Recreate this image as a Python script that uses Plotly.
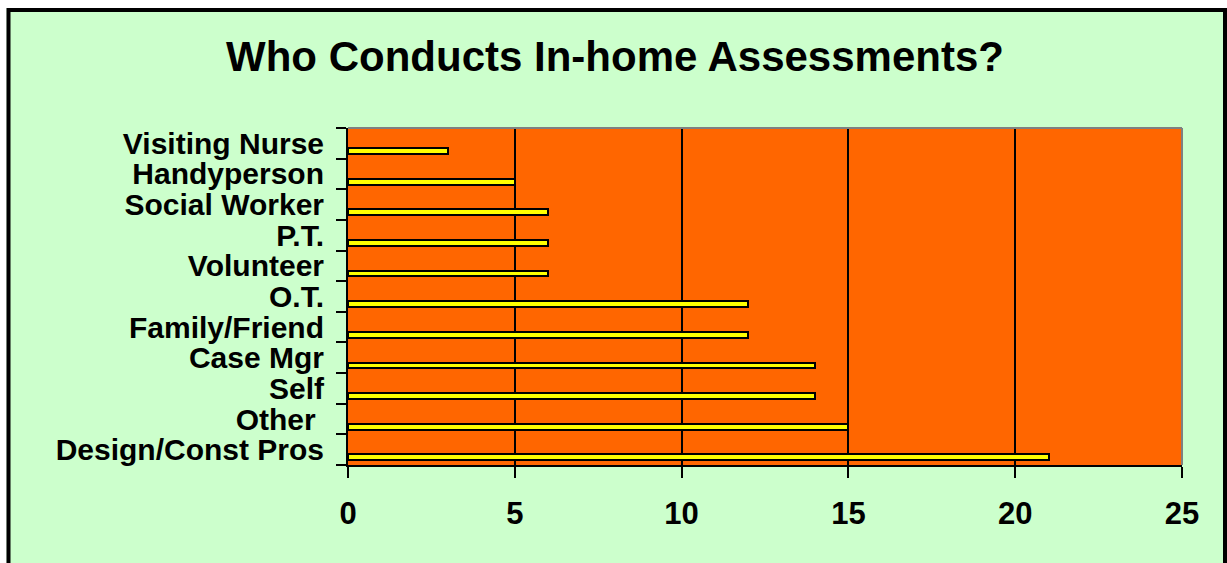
import plotly.graph_objects as go

# Data (bottom-to-top order in plotly's category axis)
categories = ["Design/Const Pros", "Other\u00a0", "Self", "Case Mgr", "Family/Friend",
              "O.T.", "Volunteer", "P.T.", "Social Worker", "Handyperson", "Visiting Nurse"]
values = [21, 15, 14, 14, 12, 12, 6, 6, 6, 5, 3]
x_ticks = [0, 5, 10, 15, 20, 25]
title_text = "Who Conducts In-home Assessments?"

W, H = 1227, 563
L, R, T, B = 348, 1182, 128, 465  # plot area in pixels
pw, ph = R - L, B - T

def px(x):
    return (x - L) / pw

def py(y):
    return (B - y) / ph

FONT = "Arial, 'Liberation Sans', sans-serif"

fig = go.Figure()
fig.add_trace(go.Bar(
    y=categories, x=values, orientation="h",
    width=0.19, offset=-0.345,
    marker=dict(color="#FFFF00", line=dict(color="black", width=2)),
    hoverinfo="x+y",
))

shapes = [
    # gray top/right edges of plot area
    dict(type="line", xref="paper", yref="paper", x0=0, x1=1, y0=1, y1=1,
         line=dict(color="#808080", width=2), layer="above"),
    dict(type="line", xref="paper", yref="paper", x0=1, x1=1, y0=0, y1=1,
         line=dict(color="#808080", width=2), layer="above"),
    # white outer margins
    dict(type="rect", xref="paper", yref="paper", x0=px(-5), x1=px(6.5), y0=py(H + 20), y1=py(-5),
         fillcolor="white", line=dict(width=0), layer="above"),
    dict(type="rect", xref="paper", yref="paper", x0=px(-5), x1=px(W + 5), y0=py(8.5), y1=py(-5),
         fillcolor="white", line=dict(width=0), layer="above"),
    # black chart border
    dict(type="rect", xref="paper", yref="paper", x0=px(8.5), x1=px(1225), y0=py(H + 20), y1=py(10),
         fillcolor="rgba(0,0,0,0)", line=dict(color="black", width=4), layer="above"),
]

fig.update_layout(
    width=W, height=H,
    margin=dict(l=L, r=W - R, t=T, b=H - B, pad=0),
    paper_bgcolor="#CCFFCC",
    plot_bgcolor="#FF6600",
    showlegend=False,
    bargap=0,
    title=dict(text="<b>" + title_text + "</b>", x=615 / W, xref="container", xanchor="center",
               y=1 - 56 / H, yref="container", yanchor="middle",
               font=dict(family=FONT, size=42, color="black")),
    xaxis=dict(range=[0, 25], tickvals=x_ticks, ticktext=[f"<b>{v}</b>" for v in x_ticks],
               showgrid=True, gridcolor="black", gridwidth=2,
               showline=True, linecolor="black", linewidth=2,
               ticks="outside", ticklen=11, tickwidth=2, tickcolor="black",
               ticklabelstandoff=9,
               tickfont=dict(family=FONT, size=31, color="black"),
               zeroline=False, fixedrange=True),
    yaxis=dict(categoryorder="array", categoryarray=categories,
               tickvals=categories, ticktext=[f"<b>{c}</b>" for c in categories],
               tickson="boundaries",
               showgrid=False,
               showline=True, linecolor="black", linewidth=2,
               ticks="outside", ticklen=10, tickwidth=2, tickcolor="black",
               ticklabelstandoff=16,
               tickfont=dict(family=FONT, size=30, color="black"),
               fixedrange=True),
    shapes=shapes,
)

fig.write_html(
    "out.html",
    config={"displayModeBar": False},
    post_script="document.body.style.margin='0';document.body.style.overflow='hidden';",
)
